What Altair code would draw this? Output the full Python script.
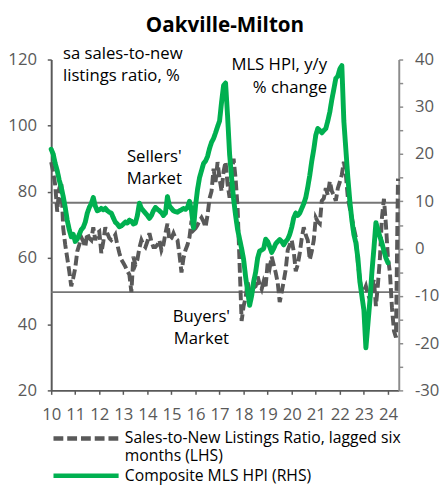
import json
import altair as alt
import pandas as pd

TITLE = "Oakville-Milton"
SNLR_NAME = "Sales-to-New Listings Ratio, lagged six months (LHS)"
HPI_NAME = "Composite MLS HPI (RHS)"
SNLR_LINES = ["Sales-to-New Listings Ratio, lagged six", "months (LHS)"]

LEFT_NOTE = "sa sales-to-new\nlistings ratio, %"
RIGHT_NOTE = "MLS HPI, y/y\n% change"
SELLERS_NOTE = "Sellers'\nMarket"
BUYERS_NOTE = "Buyers'\nMarket"

year_ticks = list(range(2010, 2025))
left_ticks = [20, 40, 60, 80, 100, 120]
right_ticks = list(range(-30, 45, 5))
thresholds = [76.7, 49.7]

# Sales-to-new listings ratio (lagged six months), monthly from Jan 2010
snlr_2010 = [89, 86, 82, 74, 81, 83, 69, 64, 60, 56, 51.5, 54]
snlr_2011 = [57, 62, 64, 66.3, 65, 63.3, 67.5, 66, 65.4, 69.3, 65.4, 67.5]
snlr_2012 = [68, 61.5, 65, 69.3, 67.5, 66, 65.4, 66, 67, 64, 61.5, 59.5]
snlr_2013 = [58.5, 57.4, 56, 55, 49.7, 60.4, 58, 59.5, 63, 65.4, 64, 63.3]
snlr_2014 = [65, 67.5, 65, 63.3, 63.3, 64, 65.4, 62.4, 64, 67.5, 70.4, 65.4]
snlr_2015 = [66, 67.5, 66, 65.4, 61, 55.6, 60, 62.4, 64, 66.3, 71.3, 68.4]
snlr_2016 = [69, 70, 71.3, 72.2, 71, 69.3, 73, 78, 80.2, 87, 83, 89]
snlr_2017 = [84, 80.2, 86.2, 89.1, 82.3, 78.2, 85, 90, 84, 75.2, 58, 41]
snlr_2018 = [45.5, 48, 52.6, 50, 49.7, 51, 51.5, 54.4, 52, 50.6, 53, 51.5]
snlr_2019 = [58.6, 57, 60.4, 58, 55.6, 52.6, 46.7, 49.7, 53, 56.5, 62.4, 64]
snlr_2020 = [65.4, 62, 56, 58, 61.5, 66, 69.3, 67, 65.4, 59.5, 62, 65.4]
snlr_2021 = [72.2, 71, 70.4, 77.3, 78, 81.1, 79, 83.2, 80.2, 79, 77.3, 81.1]
snlr_2022 = [83, 85.2, 89.1, 85.2, 78.2, 75, 72.2, 69, 66.3, 58.6, 53.5, 49.7]
snlr_2023 = [50, 51.5, 49, 47.6, 51, 53.5, 45.5, 52, 60, 72.2, 77.9, 70]
snlr_2024 = [60, 55.6, 45, 38, 36, 84]

# Composite MLS HPI, y/y % change, monthly from Jan 2010
hpi_2010 = [21, 20, 18, 16.5, 14.5, 13, 11, 8.7, 6, 4, 2.5, 3]
hpi_2011 = [1.5, 2, 3, 4, 4.5, 5.6, 7.5, 8.7, 9.5, 10.8, 9, 8]
hpi_2012 = [8.2, 8.5, 8.2, 8.5, 8, 7.7, 7.5, 6.5, 5.6, 5.2, 4.6, 4.8]
hpi_2013 = [5.2, 5.6, 5.4, 6, 5.8, 5.2, 5.4, 7, 9.6, 8.5, 8, 7.5]
hpi_2014 = [7, 6.4, 7, 8, 8.7, 8.3, 8, 7.6, 7, 7.5, 11, 9]
hpi_2015 = [8.5, 8, 7.8, 7.7, 8, 8.2, 8.5, 8.3, 8.7, 10, 8, 4.4]
hpi_2016 = [9, 12.5, 15, 16.5, 18, 18.5, 19.5, 21.2, 22.5, 23.3, 24.5, 25.8]
hpi_2017 = [27, 31, 34.5, 35, 28, 20, 15, 10.5, 7, 4, 2, 0]
hpi_2018 = [-2.3, -6, -9, -12, -10, -7, -5, -2, -0.5, -0.3, 0, 2]
hpi_2019 = [1.5, 0.4, -0.8, 0, 1, 1.5, 1.9, 1.5, 0.8, 1.5, 2, 3]
hpi_2020 = [4.5, 6.5, 7.5, 7, 7.5, 8.5, 9.5, 10.8, 13, 15.5, 18.5, 21]
hpi_2021 = [24, 25.4, 25, 24.5, 25, 25.4, 27, 28.9, 31.5, 33.7, 36, 36.5]
hpi_2022 = [38, 38.7, 27, 21, 15, 10, 6, 3, 1.2, -2, -7, -10]
hpi_2023 = [-13, -21, -16, -11, -5, 0, 5.5, 4, 2.5, 1.2, -0.5, -2]
hpi_2024 = [-3]

snlr = (snlr_2010 + snlr_2011 + snlr_2012 + snlr_2013 + snlr_2014 + snlr_2015 +
        snlr_2016 + snlr_2017 + snlr_2018 + snlr_2019 + snlr_2020 + snlr_2021 +
        snlr_2022 + snlr_2023 + snlr_2024)
hpi = (hpi_2010 + hpi_2011 + hpi_2012 + hpi_2013 + hpi_2014 + hpi_2015 +
       hpi_2016 + hpi_2017 + hpi_2018 + hpi_2019 + hpi_2020 + hpi_2021 +
       hpi_2022 + hpi_2023 + hpi_2024)

snlr_df = pd.DataFrame({"t": [2010 + i / 12 for i in range(len(snlr))], "v": snlr, "series": SNLR_NAME})
hpi_df = pd.DataFrame({"t": [2010 + i / 12 for i in range(len(hpi))], "v": hpi, "series": HPI_NAME})

FONT = "Open Sans"
GREY = "#595959"
GREEN = "#00b050"

x_enc = alt.X(
    "t:Q",
    scale=alt.Scale(domain=[2010, 2024.45], nice=False, zero=False),
    axis=alt.Axis(values=year_ticks, format="d", labelExpr="substring(datum.label, 2, 4)",
                  title=None, grid=False, domainColor=GREY, domainWidth=2,
                  tickColor=GREY, tickWidth=1.5, tickSize=4, labelPadding=13,
                  labelFont=FONT, labelFontSize=17, labelColor=GREY, labelFlush=False,
                  labelOverlap=False),
)


def make_legend(y, expr=None):
    kw = dict(
        title=None, orient="none", legendX=0, legendY=y, direction="vertical",
        symbolType="stroke", symbolSize=4400, symbolStrokeWidth=4.5,
        labelFont=FONT, labelFontSize=16, labelColor="#000000", labelOffset=4,
        labelLimit=0, padding=0,
    )
    if expr is not None:
        kw["labelExpr"] = expr
    return alt.Legend(**kw)


snlr_expr = "datum.value == " + json.dumps(SNLR_NAME) + " ? " + json.dumps(SNLR_LINES) + " : datum.label"
snlr_legend = make_legend(350.5, snlr_expr)
hpi_legend = make_legend(388.5)

left_axis = alt.Axis(orient="left", values=left_ticks, title=None, grid=False,
                     domainColor=GREY, domainWidth=2, tickColor=GREY, tickWidth=1.5,
                     tickSize=4, labelPadding=11, labelFont=FONT, labelFontSize=17,
                     labelColor=GREY)
left_scale = alt.Scale(domain=[20, 120], nice=False, zero=False)

dashed = alt.Chart(snlr_df).mark_line(strokeWidth=4, strokeCap="butt").encode(
    x=x_enc,
    y=alt.Y("v:Q", scale=left_scale, axis=left_axis),
    color=alt.Color("series:N", scale=alt.Scale(domain=[SNLR_NAME], range=[GREY]), legend=snlr_legend),
    strokeDash=alt.StrokeDash("series:N", scale=alt.Scale(domain=[SNLR_NAME], range=[[10, 4]]), legend=snlr_legend),
)

rules = alt.Chart(pd.DataFrame({"v": thresholds})).mark_rule(color="#767676", strokeWidth=2).encode(
    y=alt.Y("v:Q", scale=left_scale, axis=left_axis)
)


def note(text, x, y, align):
    return alt.Chart(pd.DataFrame({"label": [text]})).mark_text(
        align=align, baseline="alphabetic", lineBreak="\n", lineHeight=23,
        font=FONT, fontSize=17, color="#000000",
    ).encode(x=alt.value(x), y=alt.value(y), text="label:N")


notes = [
    note(LEFT_NOTE, 12, -1, "left"),
    note(RIGHT_NOTE, 281, 11, "right"),
    note(SELLERS_NOTE, 105, 104, "center"),
    note(BUYERS_NOTE, 153, 267, "center"),
]

left_layer = alt.layer(rules, dashed, *notes)

green = alt.Chart(hpi_df).mark_line(strokeWidth=5, strokeCap="round", strokeJoin="round").encode(
    x=x_enc,
    y=alt.Y("v:Q", scale=alt.Scale(domain=[-30, 40], nice=False, zero=False),
            axis=alt.Axis(orient="right", values=right_ticks, title=None, grid=False,
                          labelExpr="datum.value % 10 == 0 ? toString(datum.value) : ''",
                          domainColor="#8c8c8c", domainWidth=2, tickColor="#8c8c8c",
                          tickWidth=1.5, tickSize=4, labelPadding=12, labelFont=FONT,
                          labelFontSize=17, labelColor=GREY)),
    color=alt.Color("series:N", scale=alt.Scale(domain=[HPI_NAME], range=[GREEN]), legend=hpi_legend),
    strokeDash=alt.StrokeDash("series:N", scale=alt.Scale(domain=[HPI_NAME], range=[[1, 0]]), legend=hpi_legend),
)

chart = alt.layer(left_layer, green).resolve_scale(
    y="independent", color="independent", strokeDash="independent"
).properties(
    width=354, height=337,
    title=alt.TitleParams(TITLE, font=FONT, fontSize=21, fontWeight="bold", color="#000000",
                          anchor="middle", offset=9),
    padding={"left": 44, "top": 48, "right": 42, "bottom": 98},
    autosize=alt.AutoSizeParams(type="none"),
).configure_view(stroke=None)

chart.save("out.html", embed_options={"renderer": "svg", "actions": False})
